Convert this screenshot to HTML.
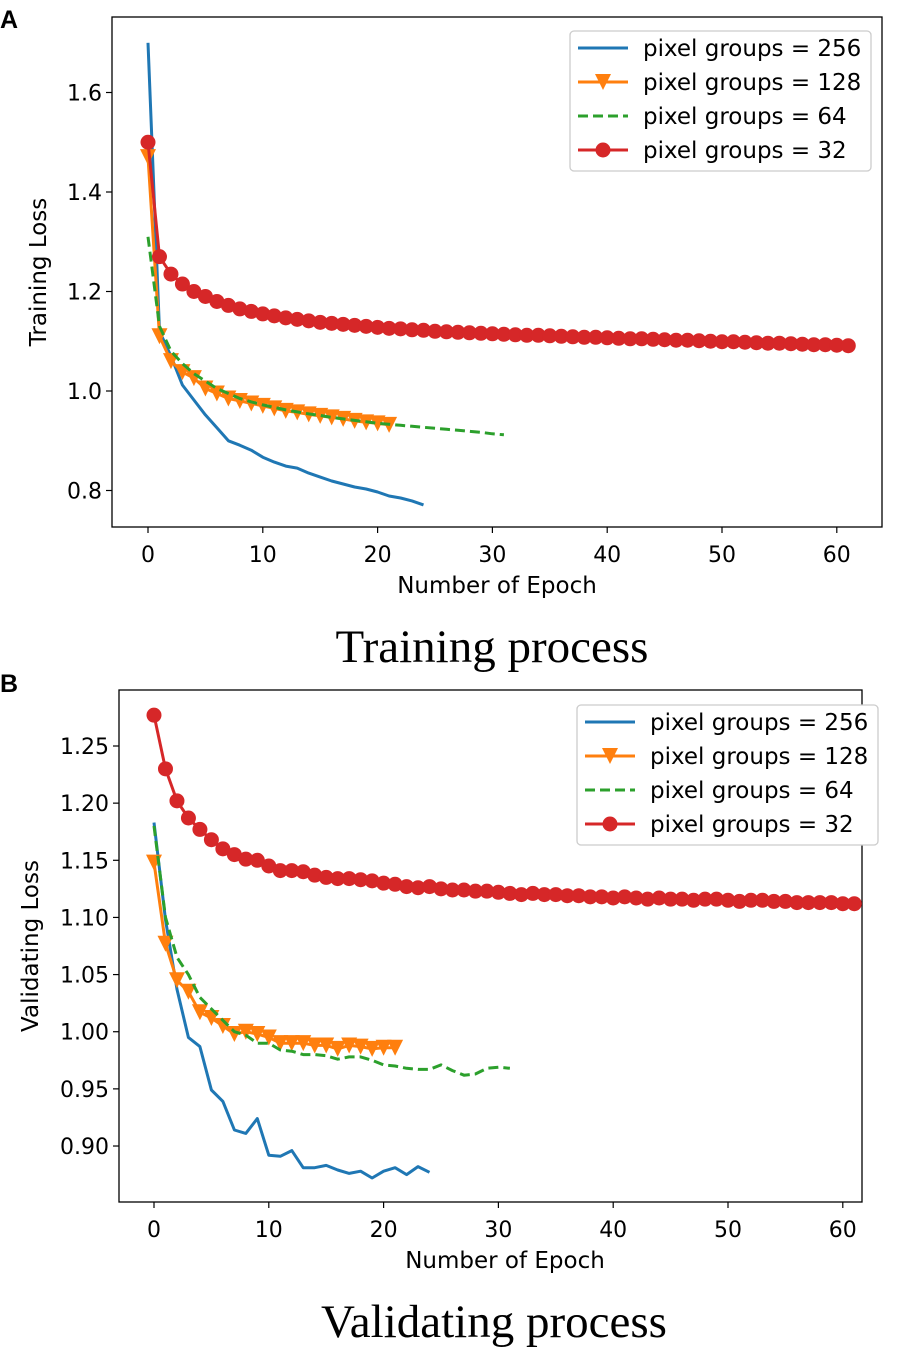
<!DOCTYPE html>
<html><head><meta charset="utf-8"><style>
body{margin:0;background:#fff;width:899px;height:1352px;overflow:hidden}
svg{display:block;font-family:"DejaVu Sans","Liberation Sans",sans-serif}
</style></head><body>
<svg id="fig" width="899" height="1352" xmlns="http://www.w3.org/2000/svg"></svg>
<script>
const trainBlue = [1.70,1.12,1.07,1.012,0.982,0.952,0.926,0.90,0.891,0.881,0.867,0.857,0.849,0.845,0.835,0.827,0.819,0.813,0.807,0.803,0.797,0.789,0.785,0.779,0.771];
const trainOrange = [1.47,1.11,1.06,1.038,1.026,1.005,0.995,0.985,0.98,0.975,0.97,0.965,0.96,0.957,0.953,0.95,0.947,0.944,0.94,0.937,0.935,0.932];
const trainGreen = [1.31,1.13,1.08,1.055,1.035,1.02,1.005,0.995,0.985,0.978,0.972,0.967,0.962,0.958,0.954,0.951,0.947,0.944,0.941,0.938,0.935,0.933,0.931,0.929,0.927,0.925,0.923,0.921,0.919,0.917,0.914,0.912];
const trainRed = [1.50,1.27,1.235,1.215,1.20,1.19,1.18,1.172,1.165,1.16,1.155,1.151,1.147,1.144,1.141,1.138,1.136,1.134,1.132,1.13,1.128,1.126,1.125,1.123,1.122,1.12,1.119,1.118,1.117,1.116,1.115,1.114,1.113,1.112,1.112,1.111,1.110,1.109,1.108,1.108,1.107,1.106,1.105,1.105,1.104,1.103,1.102,1.102,1.101,1.100,1.099,1.099,1.098,1.097,1.096,1.096,1.095,1.094,1.093,1.093,1.092,1.091];
const valBlue = [1.183,1.098,1.037,0.995,0.987,0.949,0.939,0.914,0.911,0.924,0.892,0.891,0.896,0.881,0.881,0.883,0.879,0.876,0.878,0.872,0.878,0.881,0.875,0.882,0.877];
const valOrange = [1.148,1.077,1.045,1.035,1.017,1.012,1.005,0.998,1.0,0.998,0.995,0.99,0.99,0.99,0.988,0.988,0.985,0.988,0.987,0.985,0.986,0.986];
const valGreen = [1.18,1.10,1.065,1.05,1.03,1.02,1.01,1.0,0.997,0.99,0.99,0.984,0.983,0.98,0.98,0.979,0.976,0.978,0.978,0.975,0.971,0.97,0.968,0.967,0.967,0.971,0.966,0.962,0.963,0.968,0.969,0.968];
const valRed = [1.277,1.23,1.202,1.187,1.177,1.168,1.16,1.155,1.151,1.15,1.145,1.141,1.141,1.14,1.137,1.135,1.134,1.134,1.133,1.132,1.13,1.129,1.127,1.126,1.127,1.125,1.124,1.124,1.123,1.123,1.122,1.121,1.12,1.121,1.12,1.12,1.119,1.119,1.118,1.118,1.117,1.118,1.117,1.116,1.117,1.116,1.116,1.115,1.116,1.116,1.115,1.114,1.115,1.115,1.114,1.114,1.113,1.113,1.113,1.113,1.112,1.112];
const xTicks = [0,10,20,30,40,50,60];
const trainYTicks = [0.8,1.0,1.2,1.4,1.6];
const valYTicks = [0.90,0.95,1.00,1.05,1.10,1.15,1.20,1.25];
const legendLabels = ["pixel groups = 256","pixel groups = 128","pixel groups = 64","pixel groups = 32"];
const C = {blue:"#1f77b4",orange:"#ff7f0e",green:"#2ca02c",red:"#d62728"};
const svg = document.getElementById('fig');
const NS = "http://www.w3.org/2000/svg";
function mk(tag, attrs, parent){const e=document.createElementNS(NS,tag);for(const k in attrs)e.setAttribute(k,attrs[k]);(parent||svg).appendChild(e);return e;}

function panel(cfg){
  const g = mk('g',{});
  
  
  const X = v => cfg.x0 + v*cfg.xs;
  const Y = v => cfg.yRef - (v-cfg.vRef)*cfg.ys;
  const plot = mk('rect',{x:cfg.L,y:cfg.T,width:cfg.R-cfg.L,height:cfg.B-cfg.T,fill:'none',stroke:'#000','stroke-width':1.3},g);
  
  
  xTicks.forEach(t=>{
    mk('line',{x1:X(t),x2:X(t),y1:cfg.B,y2:cfg.B+6,stroke:'#000','stroke-width':1.2},g);
    const tx = mk('text',{x:X(t),y:cfg.B+35,'font-size':22,'text-anchor':'middle'},g);
    tx.textContent = t;
    
    
  });
  cfg.yTicks.forEach(t=>{
    mk('line',{x1:cfg.L-6,x2:cfg.L,y1:Y(t),y2:Y(t),stroke:'#000','stroke-width':1.2},g);
    const ty = mk('text',{x:cfg.L-10,y:Y(t)+8,'font-size':22,'text-anchor':'end'},g);
    ty.textContent = t.toFixed(cfg.dec);
    
    
  });
  const xl = mk('text',{x:cfg.xlx,y:cfg.B+66,'font-size':23,'text-anchor':'middle'},g);
  xl.textContent='Number of Epoch';
  
  
  const yl = mk('text',{x:0,y:0,'font-size':23,'text-anchor':'middle',transform:`translate(${cfg.ylx},${(cfg.T+cfg.B)/2}) rotate(-90)`},g);
  yl.textContent=cfg.ylabel;
  
  
  const series=[[cfg.blue,C.blue,'none',null],[cfg.orange,C.orange,'none','tri'],[cfg.green,C.green,'10,5',null],[cfg.red,C.red,'none','circ']];
  [0,1,2,3].forEach(i=>{
    const [d,col,dash,mark]=series[i];
    const pts=d.map((v,k)=>X(k).toFixed(1)+','+Y(v).toFixed(1)).join(' ');
    const pl=mk('polyline',{points:pts,fill:'none',stroke:col,'stroke-width':3,'stroke-dasharray':dash,'stroke-linejoin':'round'},g);
    
    
    d.forEach((v,k)=>{
      if(mark==='circ'){
        const c=mk('circle',{cx:X(k),cy:Y(v),r:7.5,fill:col},g);
        
        
      } else if(mark==='tri'){
        const x=X(k),y=Y(v);
        const p=mk('polygon',{points:`${x-8},${y-8} ${x+8},${y-8} ${x},${y+8}`,fill:col},g);
        
        
      }
    });
  });
  const lg=mk('g',{},g);
  
  
  mk('rect',{x:cfg.lx,y:cfg.ly,width:301,height:140,rx:4,fill:'#fff',stroke:'#ccc','stroke-width':1.3},lg);
  const cols=[C.blue,C.orange,C.green,C.red];
  legendLabels.forEach((lab,i)=>{
    const yy=cfg.ly+17+i*34;
    const ent=mk('g',{},lg);
    
    
    mk('line',{x1:cfg.lx+8,x2:cfg.lx+58,y1:yy,y2:yy,stroke:cols[i],'stroke-width':3,'stroke-dasharray':i===2?'10,5':'none'},ent);
    if(i===1) mk('polygon',{points:`${cfg.lx+25},${yy-8} ${cfg.lx+41},${yy-8} ${cfg.lx+33},${yy+8}`,fill:cols[i]},ent);
    if(i===3) mk('circle',{cx:cfg.lx+33,cy:yy,r:7.5,fill:cols[i]},ent);
    const t=mk('text',{x:cfg.lx+73,y:yy+8,'font-size':23},ent);
    t.textContent=lab;
  });
  const tt=mk('text',{x:cfg.titleX,y:cfg.titleY,'font-size':47,'text-anchor':'middle','font-family':'"Liberation Serif",serif'},g);
  tt.textContent=cfg.title;
  
  
  const pl=mk('text',{x:cfg.tagX,y:cfg.tagY,'font-size':25,'font-weight':'bold','font-family':'"Liberation Sans",sans-serif'},g);
  pl.textContent=cfg.tag;
  
  
}
panel({name:'training-chart',L:112,R:882,T:17,B:527,x0:148,xs:11.48,yRef:391,vRef:1.0,ys:497.5,yTicks:trainYTicks,dec:1,ylabel:'Training Loss',ylx:46,xlx:497,
  blue:trainBlue,orange:trainOrange,green:trainGreen,red:trainRed,lx:570,ly:31,title:'Training process',titleX:492,titleY:662,tag:'A',tagX:0,tagY:28});
panel({name:'validating-chart',L:119,R:862,T:690,B:1202,x0:154,xs:11.48,yRef:746,vRef:1.25,ys:1142.9,yTicks:valYTicks,dec:2,ylabel:'Validating Loss',ylx:38,xlx:505,
  blue:valBlue,orange:valOrange,green:valGreen,red:valRed,lx:577,ly:705,title:'Validating process',titleX:494,titleY:1337,tag:'B',tagX:0,tagY:692});
</script>
</body></html>
